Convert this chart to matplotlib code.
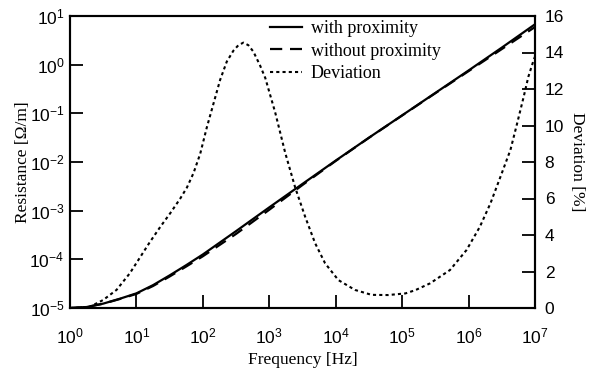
import numpy as np
import matplotlib
matplotlib.use("Agg")
import matplotlib.pyplot as plt
from matplotlib.ticker import LogLocator, NullLocator, FixedLocator

plt.rcParams['mathtext.fontset'] = 'custom'
plt.rcParams['mathtext.rm'] = 'Liberation Sans'
plt.rcParams['mathtext.it'] = 'Liberation Sans'
plt.rcParams['font.family'] = ['Liberation Sans', 'DejaVu Sans']

# Resistance curves (frequency exponents, decade steps)
res_freq_exp = [0, 0.25, 0.5, 0.75, 1.0, 1.25, 1.5, 1.75, 2.0, 2.5, 3.0, 3.5, 4.0, 4.5,
                5.0, 5.5, 6.0, 6.5, 7.0]
r_with = [1.0e-5, 1.047e-5, 1.23e-5, 1.55e-5, 2.0e-5, 2.95e-5, 4.68e-5, 7.6e-5, 1.26e-4,
          3.8e-4, 1.17e-3, 3.55e-3, 1.07e-2, 3.16e-2, 9.1e-2, 0.263, 0.76, 2.24, 6.76]
r_without = [1.0e-5, 1.047e-5, 1.225e-5, 1.53e-5, 1.95e-5, 2.83e-5, 4.44e-5, 7.13e-5,
             1.156e-4, 3.33e-4, 1.045e-3, 3.37e-3, 1.052e-2, 3.14e-2, 9.03e-2, 0.259,
             0.736, 2.09, 5.94]

# Deviation curve
dev_freq_exp = [0, 0.15, 0.3, 0.5, 0.7, 0.9, 1.05, 1.2, 1.36, 1.51, 1.66, 1.76, 1.86, 1.96,
                2.06, 2.16, 2.26, 2.36, 2.46, 2.535, 2.61, 2.685, 2.76, 2.86, 2.94, 3.09,
                3.24, 3.39, 3.54, 3.69, 3.84, 4.04, 4.29, 4.54, 4.79, 5.05, 5.2, 5.42,
                5.72, 5.97, 6.17, 6.33, 6.48, 6.63, 6.73, 6.83, 6.9, 6.98, 7.0]
deviation = [0, 0.02, 0.07, 0.44, 0.99, 1.9, 2.75, 3.6, 4.45, 5.2, 6.0, 6.6, 7.4, 8.45,
             9.9, 11.2, 12.5, 13.5, 14.1, 14.4, 14.54, 14.4, 14.05, 13.3, 12.6, 10.7,
             8.5, 6.6, 5.0, 3.55, 2.45, 1.53, 0.99, 0.72, 0.71, 0.8, 0.98, 1.35,
             2.08, 3.18, 4.45, 5.74, 7.19, 8.66, 10.1, 11.58, 12.67, 13.59, 13.77]

legend_labels = ['with proximity', 'without proximity', 'Deviation']

fig = plt.figure(figsize=(5.99, 3.80), dpi=100)
ax = fig.add_axes([70/599, 1-308/380, (535-70)/599, (308-16)/380])
ax2 = ax.twinx()

f_res = 10 ** np.array(res_freq_exp)
f_dev = 10 ** np.array(dev_freq_exp)

serif = ['Liberation Serif', 'DejaVu Serif']

l1, = ax.plot(f_res, r_with, color='black', lw=1.6, ls='-')
l2, = ax.plot(f_res, r_without, color='black', lw=1.6, ls=(0, (5.5, 3.5)))
l3, = ax2.plot(f_dev, deviation, color='black', lw=1.5, ls=(0, (1.5, 1.5)))

ax.set_xscale('log')
ax.set_yscale('log')
ax.set_xlim(1, 1e7)
ax.set_ylim(1e-5, 1e1)
ax2.set_ylim(0, 16)

ax.xaxis.set_major_locator(LogLocator(base=10, numticks=20))
ax.yaxis.set_major_locator(LogLocator(base=10, numticks=20))
ax.xaxis.set_minor_locator(NullLocator())
ax.yaxis.set_minor_locator(NullLocator())
ax2.yaxis.set_major_locator(FixedLocator(np.arange(0, 17, 2)))

ax.tick_params(axis='both', which='major', direction='in', length=9.5, width=1.3,
               labelsize=12.5, top=False, right=False)
ax.tick_params(axis='x', pad=13)
ax.tick_params(axis='y', pad=4)
ax2.tick_params(axis='y', direction='in', length=9.5, width=1.3, labelsize=12.5, pad=7)

for a in (ax, ax2):
    for s in a.spines.values():
        s.set_linewidth(1.5)

ax.set_xlabel('Frequency [Hz]', fontsize=12.5, family=serif, labelpad=4)
ax.set_ylabel('Resistance [Ω/m]', fontsize=12.5, family=serif, labelpad=-1)
ax2.set_ylabel('Deviation [%]', fontsize=12.5, family=serif, rotation=270, labelpad=15)

leg = ax.legend([l1, l2, l3], legend_labels, loc='upper left',
                bbox_to_anchor=(0.430, 0.985), frameon=False,
                prop={'family': serif, 'size': 13}, handlelength=1.8,
                handletextpad=0.45, labelspacing=0.3, borderaxespad=0.0, borderpad=0.0)
ax.set_zorder(ax2.get_zorder() + 1)
ax.patch.set_visible(False)

fig.savefig('out.png', dpi=100)
